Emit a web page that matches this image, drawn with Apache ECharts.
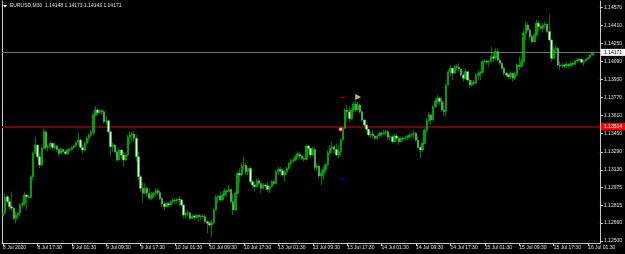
<!DOCTYPE html>
<html>
<head>
<meta charset="utf-8">
<script src="https://cdn.jsdelivr.net/npm/echarts@6/dist/echarts.min.js"></script>
<style>
html,body{margin:0;padding:0;background:#000;}
#chart{width:625px;height:254px;}
</style>
</head>
<body>
<div id="chart"></div>
<script>
// ---- Data (EURUSD M30) ----
const symbolTitle = 'EURUSD,M30  1.14148 1.14173 1.14143 1.14171';
const tickLabels = ['8 Jul 2020','8 Jul 17:30','9 Jul 01:30','9 Jul 09:30','9 Jul 17:30','10 Jul 01:30','10 Jul 09:30','10 Jul 17:30','13 Jul 01:30','13 Jul 09:30','13 Jul 17:30','14 Jul 01:30','14 Jul 09:30','14 Jul 17:30','15 Jul 01:30','15 Jul 09:30','15 Jul 17:30','16 Jul 01:30'];
const priceTicks = [1.14570,1.14410,1.14250,1.14090,1.13930,1.13770,1.13610,1.13450,1.13290,1.13130,1.12975,1.12815,1.12660,1.12500];
const bidPrice = 1.14171;
const levelPrice = 1.13514;

const opens = [1.12721,1.12745,1.12892,1.12848,1.12804,1.12789,1.12700,1.12730,1.12745,1.12818,
1.12833,1.12907,1.12892,1.12886,1.13069,1.13276,1.13350,1.13247,1.13173,1.13320,
1.13468,1.13329,1.13341,1.13365,1.13329,1.13341,1.13311,1.13276,1.13311,1.13291,
1.13276,1.13306,1.13311,1.13329,1.13341,1.13371,1.13394,1.13329,1.13306,1.13365,
1.13409,1.13439,1.13459,1.13616,1.13660,1.13637,1.13654,1.13645,1.13557,1.13566,
1.13468,1.13335,1.13350,1.13291,1.13217,1.13306,1.13261,1.13217,1.13261,1.13418,
1.13439,1.13447,1.13409,1.13247,1.13069,1.12966,1.12922,1.12966,1.12922,1.12878,
1.12907,1.12922,1.12946,1.12928,1.12878,1.12827,1.12804,1.12833,1.12818,1.12848,
1.12863,1.12857,1.12869,1.12863,1.12818,1.12730,1.12745,1.12751,1.12700,1.12721,
1.12709,1.12727,1.12715,1.12721,1.12715,1.12671,1.12656,1.12641,1.12662,1.12774,
1.12886,1.12898,1.12863,1.12907,1.12946,1.12937,1.12957,1.12848,1.12774,1.12922,
1.13099,1.13084,1.13164,1.13173,1.13114,1.13143,1.13025,1.12996,1.12981,1.13034,
1.13010,1.12966,1.12996,1.12987,1.12957,1.12981,1.13025,1.13010,1.13114,1.13134,
1.13122,1.13084,1.13114,1.13143,1.13188,1.13211,1.13217,1.13247,1.13270,1.13253,
1.13232,1.13223,1.13341,1.13320,1.13261,1.13311,1.13152,1.13164,1.13075,1.13099,
1.13134,1.13173,1.13282,1.13320,1.13335,1.13311,1.13261,1.13291,1.13394,1.13498,
1.13660,1.13645,1.13586,1.13660,1.13713,1.13660,1.13704,1.13645,1.13571,1.13527,
1.13489,1.13439,1.13447,1.13430,1.13409,1.13430,1.13453,1.13447,1.13459,1.13468,
1.13418,1.13424,1.13380,1.13430,1.13410,1.13380,1.13410,1.13404,1.13416,1.13425,
1.13439,1.13445,1.13454,1.13395,1.13327,1.13307,1.13366,1.13484,1.13563,1.13617,
1.13572,1.13690,1.13740,1.13764,1.13735,1.13661,1.13646,1.13882,1.14000,1.14030,
1.13986,1.14045,1.14036,1.14024,1.13971,1.13941,1.14000,1.13926,1.13882,1.13906,
1.13897,1.13965,1.13986,1.13994,1.14089,1.14095,1.14083,1.14089,1.14133,1.14118,
1.14178,1.14104,1.14074,1.14030,1.13986,1.13971,1.13956,1.13986,1.13941,1.13977,
1.14059,1.14045,1.14089,1.14340,1.14414,1.14370,1.14311,1.14266,1.14325,1.14429,
1.14399,1.14384,1.14414,1.14420,1.14355,1.14281,1.14118,1.14192,1.14207,1.14059,
1.14053,1.14059,1.14050,1.14065,1.14053,1.14074,1.14065,1.14095,1.14104,1.14110,
1.14083,1.14095,1.14113,1.14124,1.14148];

const highs = [1.12759,1.12922,1.12907,1.12878,1.12937,1.12795,1.12759,1.12759,1.12833,1.12848,
1.12937,1.12913,1.12907,1.13084,1.13291,1.13424,1.13356,1.13276,1.13335,1.13498,
1.13477,1.13350,1.13380,1.13371,1.13365,1.13350,1.13320,1.13329,1.13320,1.13306,
1.13320,1.13323,1.13341,1.13353,1.13380,1.13459,1.13406,1.13350,1.13380,1.13424,
1.13453,1.13483,1.13631,1.13696,1.13669,1.13669,1.13666,1.13660,1.13616,1.13571,
1.13477,1.13371,1.13359,1.13306,1.13320,1.13311,1.13291,1.13276,1.13439,1.13468,
1.13468,1.13471,1.13439,1.13291,1.13084,1.13025,1.13010,1.12981,1.12966,1.12937,
1.12937,1.12966,1.12966,1.12951,1.12884,1.12848,1.12848,1.12848,1.12863,1.12878,
1.12878,1.12878,1.12898,1.12878,1.12833,1.12759,1.12774,1.12757,1.12739,1.12730,
1.12739,1.12736,1.12730,1.12733,1.12730,1.12686,1.12671,1.12686,1.12789,1.12907,
1.12907,1.12937,1.12922,1.12966,1.12957,1.12996,1.12966,1.12922,1.12937,1.13114,
1.13143,1.13188,1.13247,1.13188,1.13158,1.13158,1.13040,1.13025,1.13055,1.13055,
1.13016,1.13010,1.13010,1.13025,1.12996,1.13040,1.13040,1.13128,1.13158,1.13158,
1.13134,1.13128,1.13158,1.13202,1.13232,1.13232,1.13261,1.13291,1.13291,1.13261,
1.13247,1.13350,1.13350,1.13329,1.13335,1.13329,1.13188,1.13173,1.13128,1.13158,
1.13188,1.13306,1.13350,1.13380,1.13350,1.13365,1.13350,1.13409,1.13512,1.13675,
1.13704,1.13690,1.13675,1.13734,1.13743,1.13734,1.13713,1.13654,1.13586,1.13533,
1.13495,1.13468,1.13483,1.13436,1.13439,1.13468,1.13468,1.13483,1.13483,1.13483,
1.13439,1.13439,1.13453,1.13454,1.13425,1.13425,1.13425,1.13431,1.13439,1.13454,
1.13454,1.13484,1.13463,1.13425,1.13336,1.13380,1.13498,1.13587,1.13646,1.13623,
1.13705,1.13764,1.13794,1.13779,1.13779,1.13735,1.13897,1.14015,1.14059,1.14036,
1.14059,1.14065,1.14074,1.14030,1.14000,1.14030,1.14006,1.13941,1.13926,1.13926,
1.13986,1.14015,1.14006,1.14104,1.14110,1.14104,1.14104,1.14222,1.14163,1.14207,
1.14207,1.14118,1.14089,1.14045,1.14000,1.13986,1.14000,1.13994,1.14000,1.14074,
1.14133,1.14118,1.14370,1.14443,1.14437,1.14378,1.14325,1.14340,1.14458,1.14458,
1.14414,1.14429,1.14443,1.14429,1.14508,1.14290,1.14222,1.14237,1.14222,1.14089,
1.14074,1.14074,1.14089,1.14074,1.14089,1.14083,1.14104,1.14118,1.14118,1.14113,
1.14104,1.14118,1.14133,1.14154,1.14173];

const lows = [1.12715,1.12739,1.12833,1.12774,1.12759,1.12686,1.12656,1.12686,1.12715,1.12789,
1.12804,1.12774,1.12878,1.12878,1.13040,1.13270,1.13217,1.13143,1.13164,1.13311,
1.13306,1.13291,1.13311,1.13306,1.13311,1.13291,1.13247,1.13270,1.13276,1.13261,
1.13261,1.13291,1.13300,1.13311,1.13329,1.13350,1.13320,1.13276,1.13291,1.13350,
1.13380,1.13424,1.13439,1.13607,1.13616,1.13631,1.13616,1.13542,1.13527,1.13453,
1.13247,1.13291,1.13276,1.13202,1.13211,1.13232,1.13158,1.13211,1.13247,1.13350,
1.13380,1.13380,1.13202,1.13040,1.12937,1.12848,1.12916,1.12892,1.12863,1.12863,
1.12878,1.12892,1.12907,1.12863,1.12804,1.12774,1.12798,1.12804,1.12815,1.12833,
1.12827,1.12833,1.12804,1.12804,1.12700,1.12700,1.12715,1.12686,1.12691,1.12686,
1.12700,1.12671,1.12686,1.12697,1.12656,1.12567,1.12627,1.12538,1.12650,1.12768,
1.12833,1.12848,1.12857,1.12892,1.12892,1.12928,1.12833,1.12730,1.12768,1.12916,
1.13010,1.13069,1.13128,1.13084,1.13084,1.13010,1.12966,1.12937,1.12975,1.12996,
1.12922,1.12957,1.12966,1.12937,1.12922,1.12975,1.12996,1.13004,1.13084,1.13099,
1.13069,1.13025,1.13084,1.13128,1.13158,1.13188,1.13211,1.13232,1.13232,1.13217,
1.13202,1.13211,1.13291,1.13232,1.13253,1.13128,1.13122,1.13055,1.12996,1.13040,
1.13099,1.13164,1.13261,1.13276,1.13276,1.13247,1.13232,1.13247,1.13388,1.13492,
1.13586,1.13557,1.13571,1.13645,1.13645,1.13654,1.13631,1.13557,1.13512,1.13468,
1.13424,1.13409,1.13409,1.13394,1.13394,1.13424,1.13424,1.13439,1.13439,1.13394,
1.13394,1.13365,1.13371,1.13380,1.13351,1.13374,1.13386,1.13395,1.13395,1.13410,
1.13416,1.13410,1.13380,1.13315,1.13233,1.13292,1.13357,1.13454,1.13552,1.13528,
1.13566,1.13681,1.13720,1.13705,1.13646,1.13611,1.13602,1.13876,1.13956,1.13926,
1.13980,1.14015,1.14000,1.13956,1.13912,1.13935,1.13912,1.13853,1.13867,1.13882,
1.13888,1.13926,1.13926,1.13986,1.14074,1.14059,1.14045,1.14083,1.14089,1.14104,
1.14089,1.14059,1.14015,1.13965,1.13953,1.13935,1.13935,1.13912,1.13926,1.13956,
1.14015,1.14039,1.14074,1.14281,1.14355,1.14281,1.14251,1.14260,1.14311,1.14355,
1.14370,1.14355,1.14384,1.14340,1.14266,1.14089,1.14112,1.14163,1.14045,1.14015,
1.14030,1.14030,1.14030,1.14030,1.14036,1.14045,1.14059,1.14083,1.14089,1.14074,
1.14050,1.14089,1.14104,1.14113,1.14143];

const closes = [1.12745,1.12892,1.12848,1.12804,1.12789,1.12700,1.12730,1.12745,1.12818,1.12833,
1.12907,1.12892,1.12886,1.13069,1.13276,1.13350,1.13247,1.13173,1.13320,1.13468,
1.13329,1.13341,1.13365,1.13329,1.13341,1.13311,1.13276,1.13311,1.13291,1.13276,
1.13306,1.13311,1.13329,1.13341,1.13371,1.13394,1.13329,1.13306,1.13365,1.13409,
1.13439,1.13459,1.13616,1.13660,1.13637,1.13654,1.13645,1.13557,1.13566,1.13468,
1.13335,1.13350,1.13291,1.13217,1.13306,1.13261,1.13217,1.13261,1.13418,1.13439,
1.13447,1.13409,1.13247,1.13069,1.12966,1.12922,1.12966,1.12922,1.12878,1.12907,
1.12922,1.12946,1.12928,1.12878,1.12827,1.12804,1.12833,1.12818,1.12848,1.12863,
1.12857,1.12869,1.12863,1.12818,1.12730,1.12745,1.12751,1.12700,1.12721,1.12709,
1.12727,1.12715,1.12721,1.12715,1.12671,1.12656,1.12641,1.12662,1.12774,1.12886,
1.12898,1.12863,1.12907,1.12946,1.12937,1.12957,1.12848,1.12774,1.12922,1.13099,
1.13084,1.13164,1.13173,1.13114,1.13143,1.13025,1.12996,1.12981,1.13034,1.13010,
1.12966,1.12996,1.12987,1.12957,1.12981,1.13025,1.13010,1.13114,1.13134,1.13122,
1.13084,1.13114,1.13143,1.13188,1.13211,1.13217,1.13247,1.13270,1.13253,1.13232,
1.13223,1.13341,1.13320,1.13261,1.13311,1.13152,1.13164,1.13075,1.13099,1.13134,
1.13173,1.13282,1.13320,1.13335,1.13311,1.13261,1.13291,1.13394,1.13498,1.13660,
1.13645,1.13586,1.13660,1.13713,1.13660,1.13704,1.13645,1.13571,1.13527,1.13489,
1.13439,1.13447,1.13430,1.13409,1.13430,1.13453,1.13447,1.13459,1.13468,1.13418,
1.13424,1.13380,1.13430,1.13410,1.13380,1.13410,1.13404,1.13416,1.13425,1.13439,
1.13445,1.13454,1.13395,1.13327,1.13307,1.13366,1.13484,1.13563,1.13617,1.13572,
1.13690,1.13740,1.13764,1.13735,1.13661,1.13646,1.13882,1.14000,1.14030,1.13986,
1.14045,1.14036,1.14024,1.13971,1.13941,1.14000,1.13926,1.13882,1.13906,1.13897,
1.13965,1.13986,1.13994,1.14089,1.14095,1.14083,1.14089,1.14133,1.14118,1.14178,
1.14104,1.14074,1.14030,1.13986,1.13971,1.13956,1.13986,1.13941,1.13977,1.14059,
1.14045,1.14089,1.14340,1.14414,1.14370,1.14311,1.14266,1.14325,1.14429,1.14399,
1.14384,1.14414,1.14420,1.14355,1.14281,1.14118,1.14192,1.14207,1.14059,1.14053,
1.14059,1.14050,1.14065,1.14053,1.14074,1.14065,1.14095,1.14104,1.14110,1.14083,
1.14095,1.14113,1.14124,1.14148,1.14171];

// trade markers [barIndex, price]
const openMark = [[157, 1.13490]];
const closeMark = [[165, 1.13776]];
const stopMark = [[158, 1.13773]];
const targetMark = [[158, 1.13049]];

// ---- Categories: M30 bars from 8 Jul 2020 09:30, weekends skipped ----
const months = ['Jan','Feb','Mar','Apr','May','Jun','Jul','Aug','Sep','Oct','Nov','Dec'];
const categories = [];
let t = Date.UTC(2020, 6, 8, 9, 30);
while (categories.length < 278) {
  const d = new Date(t);
  const dow = d.getUTCDay();
  if (dow !== 0 && dow !== 6) {
    const hh = String(d.getUTCHours()).padStart(2, '0');
    const mm = String(d.getUTCMinutes()).padStart(2, '0');
    categories.push(d.getUTCDate() + ' ' + months[d.getUTCMonth()] + ' ' + hh + ':' + mm);
  }
  t += 30 * 60 * 1000;
}

const candleData = opens.map((o, i) => [o, closes[i], lows[i], highs[i]]);

const FONT = 'Liberation Sans';
const chart = echarts.init(document.getElementById('chart'), null, {renderer: 'canvas'});
chart.setOption({
  backgroundColor: '#000000',
  animation: false,
  grid: {left: 1, right: 25, top: 1, bottom: 11, containLabel: false},
  graphic: [
    {type: 'polygon', shape: {points: [[3, 5], [7, 5], [5, 7.5]]}, style: {fill: '#ffffff'}},
    {type: 'text', left: 10, top: 3, style: {text: symbolTitle, fill: '#e0e0e0', font: '5px "' + FONT + '"'}}
  ],
  xAxis: {
    type: 'category',
    data: categories,
    boundaryGap: true,
    axisLine: {show: true, lineStyle: {color: '#c8c8c8', width: 1}},
    axisTick: {show: true, interval: 15, alignWithLabel: true, length: 3, lineStyle: {color: '#c8c8c8'}},
    axisLabel: {
      interval: 15, align: 'left', margin: 2, fontSize: 5, fontFamily: FONT, color: '#e0e0e0',
      formatter: (v, idx) => tickLabels[Math.round(idx / 16)] || ''
    },
    splitLine: {show: false}
  },
  yAxis: [{
    type: 'value',
    position: 'right',
    min: 1.12482,
    max: 1.14626,
    scale: true,
    axisLine: {show: true, lineStyle: {color: '#c8c8c8', width: 1}},
    axisTick: {show: true, length: 3, customValues: priceTicks, lineStyle: {color: '#c8c8c8'}},
    axisLabel: {
      customValues: priceTicks, margin: 4, fontSize: 5, fontFamily: FONT, color: '#e0e0e0',
      formatter: v => Number(v).toFixed(5)
    },
    splitLine: {show: false}
  }, {
    type: 'value',
    position: 'left',
    min: 1.12482,
    max: 1.14626,
    axisLine: {show: true, onZero: false, lineStyle: {color: '#c8c8c8', width: 1}},
    axisTick: {show: false},
    axisLabel: {show: false},
    splitLine: {show: false}
  }],
  series: [{
    type: 'candlestick',
    data: candleData,
    barWidth: 1.9,
    z: 3,
    itemStyle: {
      color: '#009a00', borderColor: '#00f000',
      color0: '#e4ffe4', borderColor0: '#20d820',
      borderWidth: 0.5
    }
  }, {
    type: 'scatter', data: openMark, symbol: 'circle', symbolSize: 4, z: 5,
    itemStyle: {color: '#ffffff', borderColor: '#e00000', borderWidth: 1.2},
    markLine: {
      silent: true,
      precision: 5,
      symbol: ['none', 'none'],
      animation: false,
      z: 2,
      data: [
        {yAxis: bidPrice, lineStyle: {color: '#6c747c', width: 1, type: 'solid'},
         label: {show: true, position: 'end', distance: 1, formatter: bidPrice.toFixed(5), backgroundColor: '#ffffff', color: '#000000', fontSize: 5, fontFamily: FONT, padding: [1, 3, 1, 3]}},
        {yAxis: levelPrice, lineStyle: {color: '#780000', width: 2, type: 'solid'},
         label: {show: true, position: 'end', distance: 1, formatter: levelPrice.toFixed(5), backgroundColor: '#ff0000', color: '#ffffff', fontSize: 5, fontFamily: FONT, padding: [1, 3, 1, 3]}}
      ]
    }
  }, {
    type: 'scatter', data: closeMark, symbol: 'triangle', symbolSize: 5, symbolRotate: -90, z: 5,
    itemStyle: {color: '#ffd27a', borderColor: '#ffffff', borderWidth: 0.5}
  }, {
    type: 'scatter', data: stopMark, symbol: 'rect', symbolSize: [5, 1.2], z: 5,
    itemStyle: {color: '#d00000'}
  }, {
    type: 'scatter', data: targetMark, symbol: 'rect', symbolSize: [5, 1.2], z: 5,
    itemStyle: {color: '#0000d0'}
  }]
});
</script>
</body>
</html>
